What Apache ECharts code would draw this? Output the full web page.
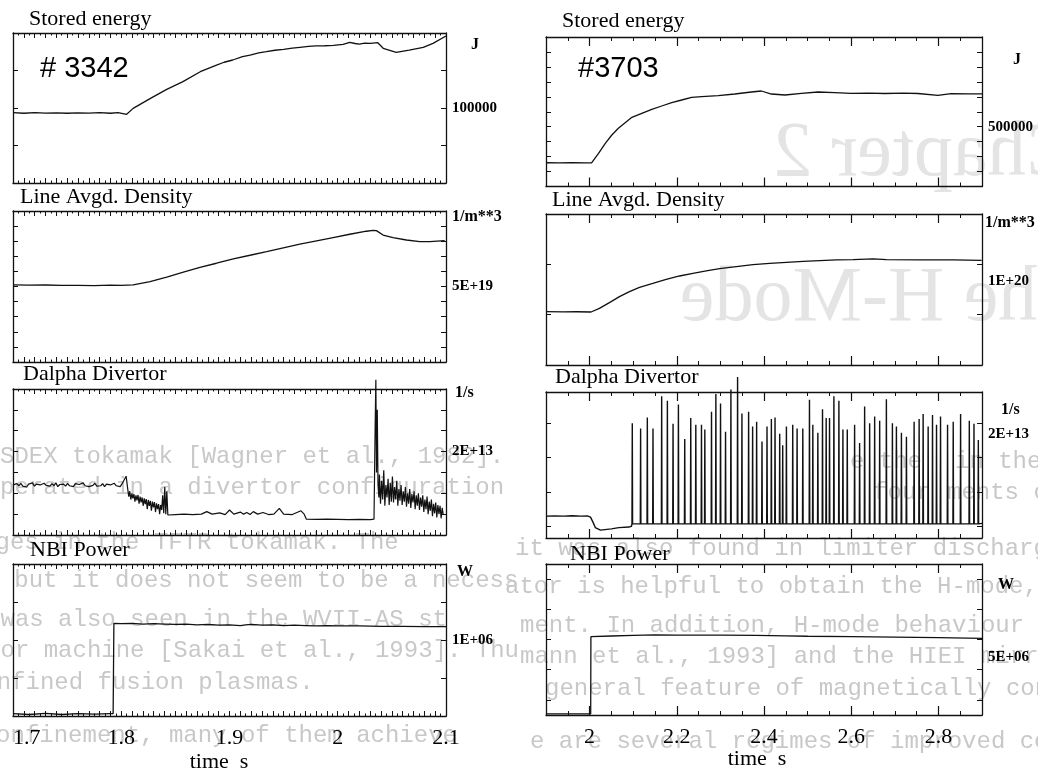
<!DOCTYPE html>
<html>
<head>
<meta charset="utf-8">
<script src="https://cdn.jsdelivr.net/npm/echarts@6/dist/echarts.min.js"></script>
<style>
  html, body { margin: 0; padding: 0; background: #ffffff; }
  #chart { width: 1038px; height: 773px; }
</style>
</head>
<body>
<div id="chart"></div>
<script>
// ---------------- Shot #3342 (t = 1.7 ... 2.1 s) ----------------
// Stored energy [s, J]
const storedEnergy3342 = [
  [1.700, 93800], [1.710, 93000], [1.720, 93900], [1.730, 93100], [1.740, 93600],
  [1.750, 93000], [1.760, 93500], [1.770, 93200], [1.780, 93800], [1.790, 93000],
  [1.797, 93700], [1.805, 91600], [1.811, 99500], [1.827, 112900], [1.842, 124900],
  [1.857, 135100], [1.873, 148400], [1.888, 157300], [1.895, 161000], [1.903, 164000],
  [1.912, 168500], [1.919, 170600], [1.927, 173500], [1.934, 175100], [1.942, 177000],
  [1.950, 178200], [1.958, 179800], [1.965, 180900], [1.973, 182200], [1.980, 182700],
  [1.988, 183000], [1.996, 183600], [2.005, 184900], [2.011, 187500], [2.016, 186000],
  [2.020, 185300], [2.025, 186500], [2.030, 186200], [2.037, 187100], [2.042, 179600],
  [2.054, 174200], [2.066, 177300], [2.079, 180900], [2.088, 186200], [2.100, 196000]
];
// Line averaged density [s, 1e19 m^-3]
const density3342 = [
  [1.700, 5.11], [1.715, 5.09], [1.730, 5.10], [1.745, 5.07], [1.760, 5.08],
  [1.775, 5.06], [1.790, 5.09], [1.800, 5.08], [1.811, 5.11], [1.8266, 5.33],
  [1.842, 5.62], [1.8574, 5.95], [1.8727, 6.26], [1.888, 6.54], [1.9035, 6.83],
  [1.919, 7.07], [1.9343, 7.31], [1.9497, 7.56], [1.965, 7.80], [1.9804, 8.02],
  [1.9957, 8.24], [2.0111, 8.46], [2.0265, 8.66], [2.0327, 8.72], [2.0357, 8.70],
  [2.0419, 8.41], [2.0511, 8.24], [2.0634, 8.08], [2.0757, 7.97], [2.085, 7.97],
  [2.0988, 8.04]
];
// D-alpha divertor [1e13 1/s]; sampled stretches are given as start, step, samples
const dalpha3342LModeStart = 1.700, dalpha3342LModeStep = 0.0018;
const dalpha3342LMode = [
  1.20, 1.16, 1.23, 1.18, 1.24, 1.17, 1.21, 1.15, 1.22, 1.19,
  1.25, 1.17, 1.22, 1.18, 1.20, 1.16, 1.24, 1.19, 1.21, 1.17,
  1.23, 1.18, 1.25, 1.16, 1.21, 1.19, 1.22, 1.17, 1.24, 1.18,
  1.20, 1.16, 1.23, 1.19, 1.21, 1.17, 1.25, 1.18, 1.22, 1.16,
  1.20, 1.19, 1.24, 1.17, 1.21, 1.18, 1.23, 1.16, 1.22, 1.19,
  1.20, 1.17, 1.24, 1.18, 1.21, 1.16, 1.23, 1.19
];
const dalpha3342Kick = [[1.8045, 1.41]];
const dalpha3342TransitionStart = 1.806, dalpha3342TransitionStep = 0.00095;
const dalpha3342Transition = [
  1.10, 0.92, 1.05, 0.85, 1.00, 0.88, 0.98, 0.80, 0.95, 0.83,
  0.96, 0.75, 0.92, 0.78, 0.90, 0.70, 0.88, 0.74, 0.86, 0.62,
  0.84, 0.70, 0.82, 0.58, 0.80, 0.66, 0.79, 0.55, 0.76, 0.62,
  0.74, 0.50, 0.72, 0.60, 0.95, 0.52, 1.15, 0.50, 1.05, 0.48
];
const dalpha3342HMode = [
  [1.8435, 0.50], [1.850, 0.49], [1.858, 0.50], [1.866, 0.49], [1.874, 0.50],
  [1.879, 0.56], [1.884, 0.50], [1.891, 0.53], [1.896, 0.49], [1.900, 0.60],
  [1.904, 0.50], [1.910, 0.55], [1.913, 0.50], [1.916, 0.54], [1.919, 0.49],
  [1.922, 0.56], [1.926, 0.50], [1.931, 0.54], [1.936, 0.49], [1.941, 0.50],
  [1.946, 0.64], [1.950, 0.50], [1.958, 0.49], [1.966, 0.58], [1.969, 0.50],
  [1.971, 0.38], [1.980, 0.375], [1.990, 0.38], [2.000, 0.375], [2.010, 0.37],
  [2.020, 0.375], [2.030, 0.37], [2.0335, 0.38], [2.0345, 2.50], [2.0352, 3.72],
  [2.0358, 1.50], [2.0365, 3.00], [2.0372, 1.20], [2.0380, 0.90]
];
const dalpha3342BurstStart = 2.0385, dalpha3342BurstStep = 0.001;
const dalpha3342Burst = [
  1.45, 0.75, 1.30, 0.85, 1.55, 0.70, 1.20, 0.90, 1.35, 0.72,
  1.25, 0.80, 1.40, 0.78, 1.15, 0.85, 1.30, 0.70, 1.10, 0.82,
  1.20, 0.72, 1.05, 0.80, 1.15, 0.68, 1.00, 0.75, 1.10, 0.65,
  0.98, 0.78, 1.05, 0.62, 0.95, 0.70, 1.00, 0.60, 0.90, 0.68,
  0.95, 0.55, 0.85, 0.62, 0.92, 0.50, 0.80, 0.58, 0.85, 0.45,
  0.75, 0.52, 0.78, 0.42, 0.72, 0.50, 0.70, 0.40, 0.65, 0.48
];
// NBI power [s, MW]
const nbi3342 = [
  [1.700, 0.03], [1.715, 0.02], [1.730, 0.035], [1.745, 0.02], [1.760, 0.03],
  [1.775, 0.025], [1.790, 0.03], [1.7925, 0.03], [1.7932, 1.22], [1.800, 1.215],
  [1.810, 1.22], [1.820, 1.21], [1.830, 1.215], [1.840, 1.21], [1.850, 1.205],
  [1.860, 1.21], [1.870, 1.20], [1.880, 1.205], [1.890, 1.195], [1.900, 1.20],
  [1.910, 1.19], [1.915, 1.20], [1.920, 1.205], [1.930, 1.195], [1.940, 1.20],
  [1.950, 1.19], [1.960, 1.195], [1.970, 1.19], [1.980, 1.185], [1.990, 1.19],
  [2.000, 1.185], [2.020, 1.185], [2.040, 1.18], [2.060, 1.18], [2.080, 1.175],
  [2.100, 1.175]
];

// ---------------- Shot #3703 (t = 1.9 ... 2.9 s) ----------------
const storedEnergy3703 = [
  [1.900, 259000], [1.930, 258000], [1.960, 259500], [1.990, 258500], [2.005, 259000],
  [2.0205, 321800], [2.036, 388700], [2.051, 444500], [2.066, 489100], [2.0815, 527000],
  [2.097, 562700], [2.1197, 589400], [2.1426, 616200], [2.1654, 638500], [2.1883, 660800],
  [2.2112, 678600], [2.234, 696400], [2.257, 700900], [2.295, 707600], [2.333, 718700],
  [2.371, 732100], [2.394, 738800], [2.417, 718700], [2.448, 712000], [2.486, 723200],
  [2.524, 732100], [2.562, 727600], [2.600, 723200], [2.640, 725000], [2.677, 722000],
  [2.720, 724000], [2.753, 722000], [2.799, 709800], [2.829, 721000], [2.870, 719000],
  [2.900, 720000]
];
const density3703 = [
  [1.900, 6.36], [1.940, 6.33], [1.970, 6.35], [2.0034, 6.32], [2.0225, 6.75],
  [2.0455, 7.43], [2.0685, 8.15], [2.0914, 8.74], [2.1144, 9.26], [2.145, 9.73],
  [2.1757, 10.21], [2.2063, 10.61], [2.2369, 10.93], [2.2675, 11.21], [2.2982, 11.48],
  [2.3364, 11.72], [2.3747, 11.96], [2.413, 12.12], [2.4513, 12.24], [2.4896, 12.36],
  [2.5279, 12.44], [2.5662, 12.52], [2.6044, 12.56], [2.6504, 12.64], [2.681, 12.56],
  [2.7576, 12.52], [2.8342, 12.52], [2.8992, 12.48]
];
// D-alpha before the first ELM [s, 1e13 1/s]
const dalpha3703Quiet = [
  [1.900, 0.42], [1.920, 0.425], [1.940, 0.42], [1.960, 0.428], [1.980, 0.42],
  [1.995, 0.425], [2.002, 0.40], [2.008, 0.30], [2.013, 0.20], [2.0173, 0.166],
  [2.025, 0.15], [2.035, 0.16], [2.050, 0.175], [2.067, 0.198], [2.090, 0.21],
  [2.096, 0.225]
];
// ELM bursts: time of each spike and its peak [s, 1e13 1/s]
const elmPeaks3703 = [
  [2.0979, 2.20], [2.1170, 2.10], [2.1324, 2.31], [2.1454, 2.10], [2.1653, 2.72],
  [2.1784, 2.63], [2.1914, 2.19], [2.2037, 2.56], [2.2182, 1.90], [2.2320, 2.30],
  [2.2436, 2.17], [2.2566, 2.17], [2.2643, 2.08], [2.2796, 2.42], [2.2896, 2.76],
  [2.3003, 2.58], [2.3118, 2.04], [2.3241, 2.85], [2.3394, 3.09], [2.3494, 2.39],
  [2.3647, 2.42], [2.3739, 2.14], [2.3831, 2.23], [2.3954, 1.85], [2.4069, 2.14],
  [2.4169, 2.28], [2.4253, 2.31], [2.4360, 2.00], [2.4429, 1.78], [2.4514, 2.14],
  [2.4659, 2.17], [2.4759, 2.10], [2.4890, 2.10], [2.5043, 2.65], [2.5120, 2.17],
  [2.5235, 2.02], [2.5342, 2.47], [2.5426, 2.30], [2.5503, 2.30], [2.5603, 2.72],
  [2.5718, 2.63], [2.5810, 2.08], [2.5910, 2.08], [2.6078, 2.17], [2.6193, 1.82],
  [2.6308, 2.52], [2.6423, 2.20], [2.6538, 2.33], [2.6653, 2.25], [2.6807, 2.66],
  [2.6945, 2.20], [2.7037, 2.14], [2.7152, 2.02], [2.7267, 1.94], [2.7443, 2.23],
  [2.7558, 2.28], [2.7650, 2.38], [2.7765, 2.14], [2.7865, 2.36], [2.7957, 2.17],
  [2.8049, 2.33], [2.8210, 2.17], [2.8340, 2.23], [2.8509, 2.38], [2.8709, 2.25],
  [2.8816, 2.19], [2.8916, 1.88]
];
const elmBaseline3703 = 0.27;   // inter-ELM level, 1e13 1/s
const elmEnd3703 = [[2.900, 0.28]];
const nbi3703 = [
  [1.900, 0.10], [1.950, 0.10], [2.0025, 0.10], [2.0030, 6.74], [2.050, 6.80],
  [2.100, 6.85], [2.150, 6.89], [2.200, 6.88], [2.300, 6.87], [2.380, 6.86],
  [2.450, 6.82], [2.500, 6.78], [2.600, 6.74], [2.700, 6.70], [2.800, 6.66],
  [2.900, 6.60]
];

// ---------------- Axis values ----------------
const timeLabels3703 = [2.0, 2.2, 2.4, 2.6, 2.8];
const dalpha3703Ticks = [0.23e13, 0.88e13, 1.55e13, 2.2e13];
const nbi3703Ticks = [1.3e6, 3.9e6, 6.5e6, 9.1e6, 11.7e6];

// ---------------- Text ----------------
const panelTitles = ['Stored energy', 'Line Avgd. Density', 'Dalpha Divertor', 'NBI Power'];
const panelUnits = ['J', '1/m**3', '1/s', 'W'];
const shotNames = ['# 3342', '#3703'];

// Book page showing faintly behind the figure.
// The heading shows through mirrored; the body lines wrap around the sheet edge.
const pageHeadings = [
  { text: 'Chapter 2', x: 773, y: 155 },
  { text: 'The H-Mode', x: 680, y: 300 }
];
// [x, y, text]
const pagePieces = [
  [850, 462, 'e the'], [955, 462, 'in the A'],
  [0, 457, 'SDEX tokamak [Wagner et al., 1982].'],
  [873, 493, 'four'], [947, 493, 'ments o'],
  [0, 488, 'perated in a divertor configuration']
];
// [x where the line starts, y, text]
const pageLines = [
  [515, 549, 'it was also found in limiter discharges in the TFTR tokamak. The'],
  [505, 587, 'ator is helpful to obtain the H-mode, but it does not seem to be a necess'],
  [520, 626, 'ment. In addition, H-mode behaviour was also seen in the WVII-AS st'],
  [520, 657, 'mann et al., 1993] and the HIEI mirror machine [Sakai et al., 1993]. Thu'],
  [545, 689, 'general feature of magnetically confined fusion plasmas.'],
  [530, 742, 'e are several regimes of improved confinement, many of them achieve']
];
const PAGE_WIDTH = 1038;

// ---------------- Helpers ----------------
const SERIF = '"Liberation Serif", "Times New Roman", serif';
const SANS = '"Liberation Sans", Arial, sans-serif';
const PAGE_FONT = '24px "Liberation Mono", "DejaVu Sans Mono", monospace';
const PAGE_INK = '#c8c8c8';
const INK = '#111111';

function scaled(points, unit) {
  return points.map(p => [p[0], p[1] * unit]);
}
function sampled(start, step, samples, unit) {
  return samples.map((v, i) => [start + i * step, v * unit]);
}
function elmTrace(peaks, baseline, unit) {
  const halfWidth = 0.0007;
  const out = [];
  peaks.forEach(p => {
    out.push([p[0] - halfWidth, baseline * unit]);
    out.push([p[0], p[1] * unit]);
    out.push([p[0] + halfWidth, baseline * unit]);
  });
  return out;
}
function sciLabel(v) {
  if (v < 1e6) return String(Math.round(v));
  const e = Math.floor(Math.log10(v) + 1e-9);
  const m = Math.round(v / Math.pow(10, e));
  return m + 'E+' + (e < 10 ? '0' + e : e);
}

const dalpha3342 = [].concat(
  sampled(dalpha3342LModeStart, dalpha3342LModeStep, dalpha3342LMode, 1e13),
  scaled(dalpha3342Kick, 1e13),
  sampled(dalpha3342TransitionStart, dalpha3342TransitionStep, dalpha3342Transition, 1e13),
  scaled(dalpha3342HMode, 1e13),
  sampled(dalpha3342BurstStart, dalpha3342BurstStep, dalpha3342Burst, 1e13)
);
const dalpha3703 = [].concat(
  scaled(dalpha3703Quiet, 1e13),
  elmTrace(elmPeaks3703, elmBaseline3703, 1e13),
  scaled(elmEnd3703, 1e13)
);

// ---------------- Layout ----------------
const LEFT = { left: 13, width: 433, min: 1.7, max: 2.1 };
const RIGHT = { left: 546, width: 436, min: 1.9, max: 2.9 };

const panels = [
  { col: LEFT, top: 33, height: 150, yMin: 0, yMax: 2e5, yInterval: 5e4, yLabels: [1e5], data: storedEnergy3342, lw: 1.3 },
  { col: LEFT, top: 211, height: 151, yMin: 0, yMax: 1e20, yInterval: 1e19, yLabels: [5e19], data: scaled(density3342, 1e19), lw: 1.3 },
  { col: LEFT, top: 389, height: 146, yMin: 0, yMax: 3.5e13, yInterval: 5e12, yLabels: [2e13], data: dalpha3342, lw: 1.2, noClip: true },
  { col: LEFT, top: 564, height: 152, yMin: 0, yMax: 2e6, yInterval: 5e5, yLabels: [1e6], data: scaled(nbi3342, 1e6), lw: 1.3, timeAxis: true },
  { col: RIGHT, top: 37, height: 149.5, yMin: 1e5, yMax: 1.1e6, yInterval: 1e5, yLabels: [5e5], data: storedEnergy3703, lw: 1.3 },
  { col: RIGHT, top: 214, height: 151, yMin: 0, yMax: 1.8e20, yInterval: 6e19, yLabels: [1e20], data: scaled(density3703, 1e19), lw: 1.3 },
  { col: RIGHT, top: 392, height: 146, yMin: 0, yMax: 2.8e13, yTicks: dalpha3703Ticks, yLabels: [2e13], data: dalpha3703, lw: 1.4, noClip: true },
  { col: RIGHT, top: 564, height: 151, yMin: 0, yMax: 1.3e7, yTicks: nbi3703Ticks, yLabels: [5e6], data: scaled(nbi3703, 1e6), lw: 1.3, timeAxis: true }
];

const grids = [], xAxes = [], yAxes = [], series = [];
const boxLine = { show: true, onZero: false, lineStyle: { color: INK, width: 1.3 } };

panels.forEach((p, g) => {
  grids.push({ left: p.col.left, top: p.top, width: p.col.width, height: p.height });
  const isLeft = p.col === LEFT;
  const base = { type: 'value', gridIndex: g, min: p.col.min, max: p.col.max, splitLine: { show: false } };
  const firstX = xAxes.length;
  ['bottom', 'top'].forEach(pos => {
    if (isLeft) {
      xAxes.push(Object.assign({}, base, {
        position: pos, interval: 0.01,
        axisLine: boxLine,
        axisTick: { show: true, inside: true, length: 5, lineStyle: { color: INK, width: 1 } },
        minorTick: { show: true, splitNumber: 2, length: 2.5, lineStyle: { color: INK, width: 1 } },
        axisLabel: { show: false }
      }));
    } else {
      xAxes.push(Object.assign({}, base, {
        position: pos, interval: 0.05,
        axisLine: boxLine,
        axisTick: { show: true, inside: true, length: 4, lineStyle: { color: INK, width: 1 } },
        axisLabel: { show: false }
      }));
      xAxes.push(Object.assign({}, base, {
        position: pos,
        axisLine: { show: false, onZero: false },
        axisTick: { show: true, inside: true, length: 9, customValues: timeLabels3703, lineStyle: { color: INK, width: 1.2 } },
        axisLabel: { show: false }
      }));
    }
  });
  if (p.timeAxis) {
    const labelStyle = { show: true, fontFamily: SERIF, fontSize: 22, color: '#000', margin: 11 };
    if (isLeft) {
      xAxes.push(Object.assign({}, base, {
        position: 'bottom', interval: 0.1,
        axisLine: { show: false, onZero: false }, axisTick: { show: false },
        axisLabel: Object.assign({ alignMinLabel: 'left' }, labelStyle)
      }));
    } else {
      xAxes.push(Object.assign({}, base, {
        position: 'bottom',
        axisLine: { show: false, onZero: false }, axisTick: { show: false },
        axisLabel: Object.assign({ customValues: timeLabels3703 }, labelStyle)
      }));
    }
  }
  const firstY = yAxes.length;
  ['left', 'right'].forEach(pos => {
    const tick = { show: true, inside: true, length: 5, lineStyle: { color: INK, width: 1 } };
    const ax = {
      type: 'value', gridIndex: g, position: pos, min: p.yMin, max: p.yMax,
      splitLine: { show: false }, axisLine: boxLine, axisTick: tick,
      axisLabel: { show: false }
    };
    if (p.yInterval) ax.interval = p.yInterval;
    if (p.yTicks) tick.customValues = p.yTicks;
    if (pos === 'right') {
      ax.axisLabel = {
        show: true, customValues: p.yLabels, formatter: sciLabel,
        fontFamily: SERIF, fontSize: 15, fontWeight: 'bold', color: '#000', margin: 6
      };
    }
    yAxes.push(ax);
  });
  series.push({
    type: 'line', xAxisIndex: firstX, yAxisIndex: firstY,
    data: p.data, showSymbol: false, symbol: 'none', silent: true,
    clip: !p.noClip,
    lineStyle: { color: INK, width: p.lw },
    animation: false
  });
});

// ---------------- Free text ----------------
const graphics = [];
function pageText(x, y, text) {
  return {
    type: 'text', x: x, y: y, z: -20, silent: true,
    style: { text: text, fill: PAGE_INK, font: PAGE_FONT,
             textAlign: 'left', align: 'left', textVerticalAlign: 'middle', verticalAlign: 'middle' }
  };
}
pageHeadings.forEach(h => {
  graphics.push({
    type: 'text', x: h.x, y: h.y, scaleX: -1, z: -20, silent: true,
    style: {
      text: h.text, fill: '#e4e4e4', font: '78px ' + SERIF,
      textAlign: 'right', align: 'right', textVerticalAlign: 'middle', verticalAlign: 'middle'
    }
  });
});
pagePieces.forEach(f => graphics.push(pageText(f[0], f[1], f[2])));
pageLines.forEach(l => {
  graphics.push(pageText(l[0], l[1], l[2]));
  graphics.push(pageText(l[0] - PAGE_WIDTH, l[1] - 6, l[2]));   // part wrapped onto the left edge
});

const titlePos = [[29, 19], [20, 197.5], [23, 374], [30, 550.5], [562, 21], [552, 200.5], [555, 377.5], [570, 554]];
const unitPos = [[475, 45, 'center'], [452, 217, 'left'], [455, 393, 'left'], [457, 572, 'left'],
                 [1017, 60, 'center'], [985, 223, 'left'], [1001, 410, 'left'], [998, 585, 'left']];
panels.forEach((p, i) => {
  const k = i % 4;
  graphics.push({
    type: 'text', x: titlePos[i][0], y: titlePos[i][1], z: 10,
    style: { text: panelTitles[k], fill: '#000', font: '22px ' + SERIF,
             textAlign: 'left', align: 'left', textVerticalAlign: 'middle', verticalAlign: 'middle' }
  });
  graphics.push({
    type: 'text', x: unitPos[i][0], y: unitPos[i][1], z: 10,
    style: { text: panelUnits[k], fill: '#000', font: 'bold 16px ' + SERIF,
             textAlign: unitPos[i][2], align: unitPos[i][2], textVerticalAlign: 'middle', verticalAlign: 'middle' }
  });
});
[[40, 69], [578, 69]].forEach((pos, i) => {
  graphics.push({
    type: 'text', x: pos[0], y: pos[1], z: 10,
    style: { text: shotNames[i], fill: '#000', font: '29px ' + SANS,
             textAlign: 'left', align: 'left', textVerticalAlign: 'middle', verticalAlign: 'middle' }
  });
});
[[219, 762], [757, 759]].forEach(pos => {
  graphics.push({
    type: 'text', x: pos[0], y: pos[1], z: 10,
    style: { text: 'time  s', fill: '#000', font: '22px ' + SERIF,
             textAlign: 'center', align: 'center', textVerticalAlign: 'middle', verticalAlign: 'middle' }
  });
});

const chart = echarts.init(document.getElementById('chart'), null, { renderer: 'canvas' });
chart.setOption({
  backgroundColor: '#ffffff',
  animation: false,
  grid: grids,
  xAxis: xAxes,
  yAxis: yAxes,
  series: series,
  graphic: { elements: graphics }
});
</script>
</body>
</html>
